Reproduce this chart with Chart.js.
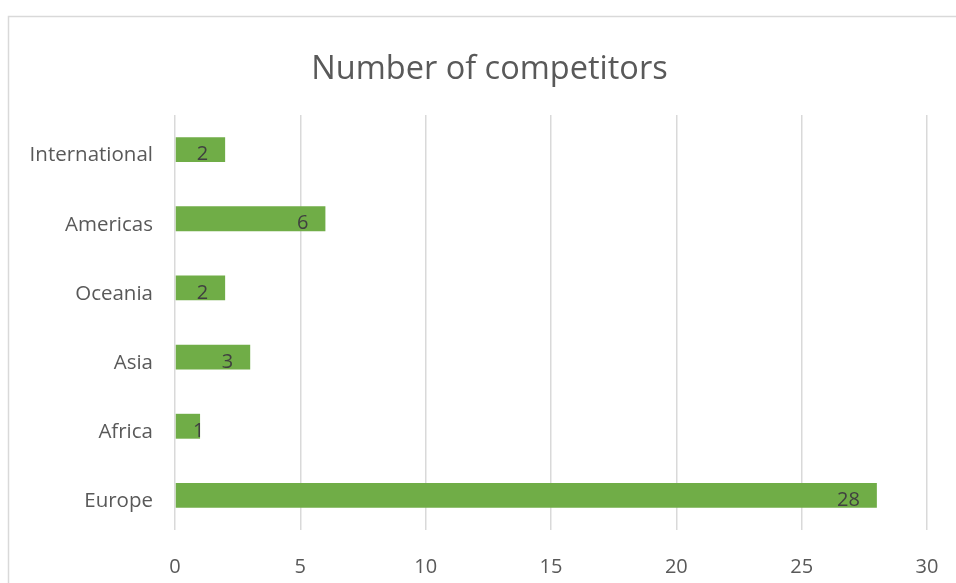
<!DOCTYPE html>
<html><head><meta charset="utf-8">
<script src="https://cdn.jsdelivr.net/npm/chart.js@4"></script>
<style>html,body{margin:0;padding:0;background:#fff;}#wrap{position:absolute;left:0;top:0;width:956px;height:583px;}</style>
</head><body><div id="wrap"><canvas id="c" width="956" height="583"></canvas></div>
<script>
const categories = ['International','Americas','Oceania','Asia','Africa','Europe'];
const competitors = [2, 6, 2, 3, 1, 28];
const xTicks = [0, 5, 10, 15, 20, 25, 30];
const chartTitle = 'Number of competitors';

const FONT = "'Open Sans', sans-serif";

const decor = {
  id: 'decor',
  beforeDraw(chart) {
    const ctx = chart.ctx;
    ctx.save();
    ctx.fillStyle = '#fff';
    ctx.fillRect(0, 0, chart.width, chart.height);
    ctx.strokeStyle = '#d9d9d9';
    ctx.lineWidth = 1.5;
    ctx.beginPath();
    ctx.moveTo(8.5, 600); ctx.lineTo(8.5, 16.5); ctx.lineTo(970, 16.5);
    ctx.stroke();
    ctx.fillStyle = '#595959';
    ctx.font = '32.5px ' + FONT;
    ctx.textAlign = 'center';
    ctx.textBaseline = 'middle';
    ctx.fillText(chartTitle, 489.5, 70);
    ctx.restore();
  },
  afterDatasetsDraw(chart) {
    const ctx = chart.ctx;
    const meta = chart.getDatasetMeta(0);
    const x0 = chart.scales.x.getPixelForValue(0);
    ctx.save();
    ctx.fillStyle = '#404040';
    ctx.font = '20px ' + FONT;
    ctx.textBaseline = 'middle';
    ctx.textAlign = 'left';
    meta.data.forEach((bar, i) => {
      const t = String(chart.data.datasets[0].data[i]);
      const w = ctx.measureText(t).width;
      let left = bar.x - 17 - w;
      if (left < x0 + 18) left = x0 + 18;
      ctx.fillText(t, left, bar.y + 5);
    });
    ctx.restore();
  }
};

new Chart(document.getElementById('c'), {
  type: 'bar',
  data: {
    labels: categories,
    datasets: [{ data: competitors, backgroundColor: '#70ad47', borderWidth: 0,
      categoryPercentage: 1, barPercentage: 0.36 }]
  },
  options: {
    indexAxis: 'y',
    responsive: false,
    animation: false,
    events: [],
    layout: { padding: { left: 0, right: 29, top: 115, bottom: 0 } },
    plugins: { legend: { display: false }, title: { display: false }, tooltip: { enabled: false } },
    scales: {
      x: {
        min: 0, max: 30,
        afterBuildTicks(scale) { scale.ticks = xTicks.map(v => ({ value: v })); },
        afterFit(scale) { scale.height = 53; scale.paddingLeft = 0; scale.paddingRight = 0; },
        grid: { color: '#d9d9d9', lineWidth: 1.5, drawTicks: false },
        border: { display: false },
        ticks: { color: '#595959', font: { family: FONT, size: 20 }, padding: 25, maxRotation: 0 }
      },
      y: {
        afterFit(scale) { scale.width = 175; scale.paddingTop = 0; scale.paddingBottom = 0; },
        grid: { display: false, drawTicks: false },
        border: { display: false },
        ticks: { color: '#595959', font: { family: FONT, size: 20.5 }, padding: 22, labelOffset: 6 }
      }
    }
  },
  plugins: [decor]
});
</script></body></html>
